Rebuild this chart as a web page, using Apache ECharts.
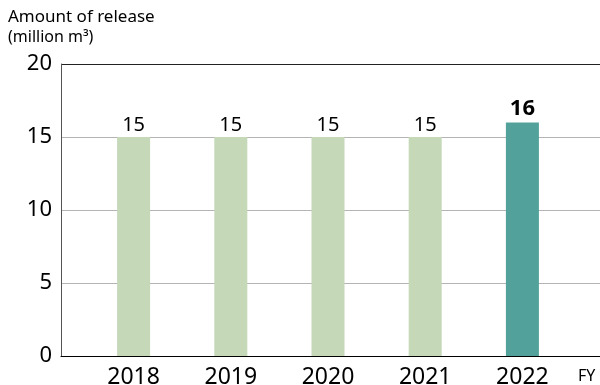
<!DOCTYPE html>
<html>
<head>
<meta charset="utf-8">
<script src="https://cdn.jsdelivr.net/npm/echarts@6/dist/echarts.min.js"></script>
<style>
  html, body { margin: 0; padding: 0; background: #fff; }
  #chart { width: 600px; height: 385px; }
</style>
</head>
<body>
<div id="chart"></div>
<script>
// 放流量
const years = ["2018", "2019", "2020", "2021", "2022"];
const releases = [15, 15, 15, 15, 16];
const yTicks = [0, 5, 10, 15, 20];

const pastColor = "#c5d8b8";
const latestColor = "#52a19b";
const font = "'Noto Sans', 'Open Sans', sans-serif";

let chart = echarts.init(document.getElementById("chart"));

let barData = releases.map((v, i) => {
  let last = i === releases.length - 1;
  return {
    value: v,
    itemStyle: { color: last ? latestColor : pastColor },
    label: last ? { fontWeight: "bold", fontSize: 22, distance: 3 } : {}
  };
});

let option = {
  animation: false,
  textStyle: { fontFamily: font },
  grid: [
    // frame, y axis, grid lines
    { left: 61, right: -2, top: 64, bottom: 29, outerBoundsMode: "none", containLabel: false },
    // bars
    { left: 85, right: 29, top: 64, bottom: 29, outerBoundsMode: "none", containLabel: false }
  ],
  xAxis: [
    {
      type: "value",
      gridIndex: 0,
      min: 0,
      max: 1,
      axisLine: { show: true, onZero: false, lineStyle: { color: "#000", width: 1 } },
      axisTick: { show: false },
      axisLabel: { show: false },
      splitLine: { show: false }
    },
    {
      type: "category",
      gridIndex: 1,
      data: years,
      axisLine: { show: false },
      axisTick: { show: false },
      axisLabel: { fontSize: 23, color: "#000", margin: 10, fontFamily: font }
    }
  ],
  yAxis: [
    {
      type: "value",
      gridIndex: 0,
      min: yTicks[0],
      max: yTicks[yTicks.length - 1],
      interval: 5,
      axisLine: { show: true, lineStyle: { color: "#555", width: 1 } },
      axisTick: { show: false },
      axisLabel: { fontSize: 22, color: "#000", margin: 9, fontFamily: font },
      splitLine: {
        show: true,
        lineStyle: { color: ["#000", "#b4b4b4", "#b4b4b4", "#b4b4b4", "#222"], width: 1 }
      }
    },
    {
      type: "value",
      gridIndex: 1,
      min: yTicks[0],
      max: yTicks[yTicks.length - 1],
      show: false
    }
  ],
  graphic: [
    {
      type: "text",
      left: 8,
      top: 9,
      style: { text: "Amount of release", fontSize: 17, fill: "#000", fontFamily: font }
    },
    {
      type: "text",
      left: 8,
      top: 29,
      style: { text: "(million m³)", fontSize: 16, fill: "#000", fontFamily: font }
    },
    {
      type: "text",
      left: 578,
      top: 368,
      style: { text: "FY", fontSize: 16, fill: "#000", fontFamily: font }
    }
  ],
  series: [
    {
      type: "bar",
      xAxisIndex: 1,
      yAxisIndex: 1,
      barWidth: 33,
      data: barData,
      label: {
        show: true,
        position: "top",
        distance: 2,
        fontSize: 20,
        color: "#000",
        fontFamily: font
      }
    }
  ]
};

chart.setOption(option);
</script>
</body>
</html>
